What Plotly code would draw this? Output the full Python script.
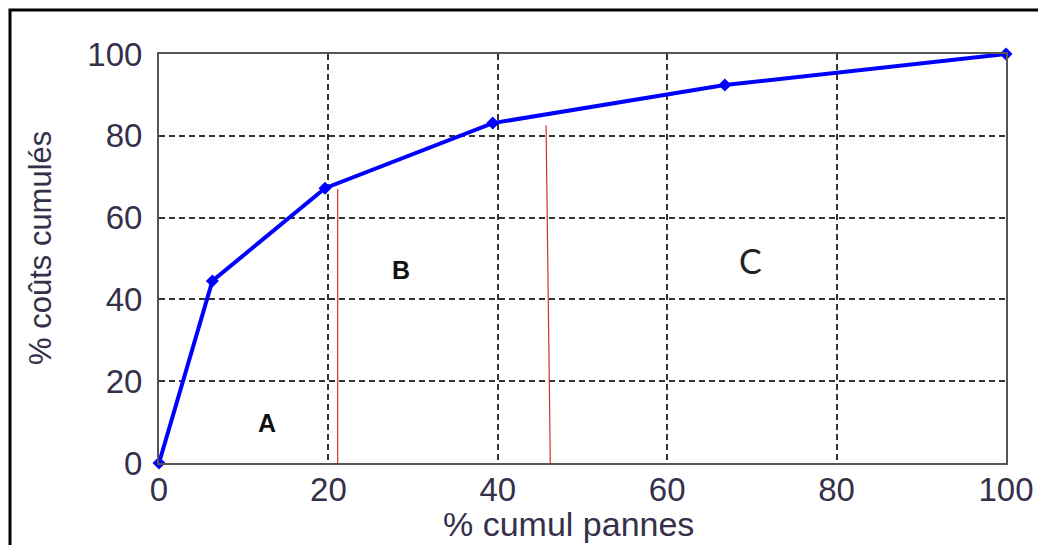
import plotly.graph_objects as go

# Data
x_pannes = [0, 6.3, 19.6, 39.4, 66.8, 100]
y_couts = [0, 44.5, 67.2, 83.1, 92.4, 100]

# ABC boundary lines (x, y ranges)
sep1_x = [21.1, 21.1]
sep1_y = [67.0, -2.4]
sep2_x = [45.7, 46.2]
sep2_y = [82.6, 0]

zone_labels = ["A", "B", "C"]
zone_x = [12.75, 28.6, 69.8]
zone_y = [9.8, 47.2, 49.6]

tick_vals = [0, 20, 40, 60, 80, 100]
tick_text = ["0", "20", "40", "60", "80", "100"]

x_title = "% cumul pannes"
y_title = "% coûts cumulés"

OFF = 8  # default page body margin
W, H = 1046 - 2 * OFF, 553 - 2 * OFF
# plot area in page pixels: left 159, right 1006, top 54, bottom 463
L = 159 - OFF
T = 54 - OFF
R = W - (1006 - OFF)
B = H - (463 - OFF)
pw, ph = W - L - R, H - T - B

def px_x(p):  # page pixel -> paper
    return (p - OFF - L) / pw

def px_y(p):
    return (H - B - (p - OFF)) / ph

fig = go.Figure()

fig.add_trace(go.Scatter(
    x=x_pannes, y=y_couts, mode="lines+markers",
    line=dict(color="#0000ff", width=4),
    marker=dict(symbol="diamond", size=10, color="#0000ff"),
    cliponaxis=False, showlegend=False,
))

tick_font = dict(family="Liberation Sans, Arial, sans-serif", size=33, color="#35304a")

axis_common = dict(
    range=[0, 100], tickvals=tick_vals, ticktext=tick_text,
    showgrid=True, gridcolor="#333333", griddash="6px,4px", gridwidth=2,
    showline=True, linecolor="#555555", linewidth=2, mirror=True,
    zeroline=False, ticks="", tickfont=tick_font, automargin=False,
)

fig.update_xaxes(**axis_common)
fig.update_yaxes(**axis_common)
fig.update_yaxes(ticklabelstandoff=8)
fig.update_xaxes(ticklabelstandoff=-4)

# Red separation lines
for sx, sy in [(sep1_x, sep1_y), (sep2_x, sep2_y)]:
    fig.add_shape(type="line", xref="x", yref="y",
                  x0=sx[0], y0=sy[0], x1=sx[1], y1=sy[1],
                  line=dict(color="#d03030", width=1.2), layer="above")

# Zone labels
fonts = [
    dict(family="Liberation Sans, Arial, sans-serif", size=25, color="#111111", weight="bold"),
    dict(family="Liberation Sans, Arial, sans-serif", size=25, color="#111111", weight="bold"),
    dict(family="Lato, sans-serif", size=34, color="#222222"),
]
for lab, zx, zy, f in zip(zone_labels, zone_x, zone_y, fonts):
    fig.add_annotation(x=zx, y=zy, xref="x", yref="y", text=lab,
                       showarrow=False, font=f)

xt_font = dict(family="Liberation Sans, Arial, sans-serif", size=34, color="#35304a")
yt_font = dict(family="Liberation Sans, Arial, sans-serif", size=31, color="#35304a")
fig.add_annotation(x=px_x(568), y=px_y(524), xref="paper", yref="paper",
                   xanchor="center", yanchor="middle",
                   text=x_title, showarrow=False, font=xt_font)
fig.add_annotation(x=px_x(41), y=px_y(248), xref="paper", yref="paper",
                   xanchor="center", yanchor="middle",
                   text=y_title, showarrow=False, font=yt_font, textangle=-90)

# Outer frame
fig.add_shape(type="rect", xref="paper", yref="paper",
              x0=px_x(10), y0=px_y(600), x1=px_x(1100), y1=px_y(10),
              line=dict(color="#000000", width=3), fillcolor="rgba(0,0,0,0)")

fig.update_layout(
    width=W, height=H,
    margin=dict(l=L, r=R, t=T, b=B),
    paper_bgcolor="white", plot_bgcolor="white",
    showlegend=False,
)

fig.write_html("out.html")
